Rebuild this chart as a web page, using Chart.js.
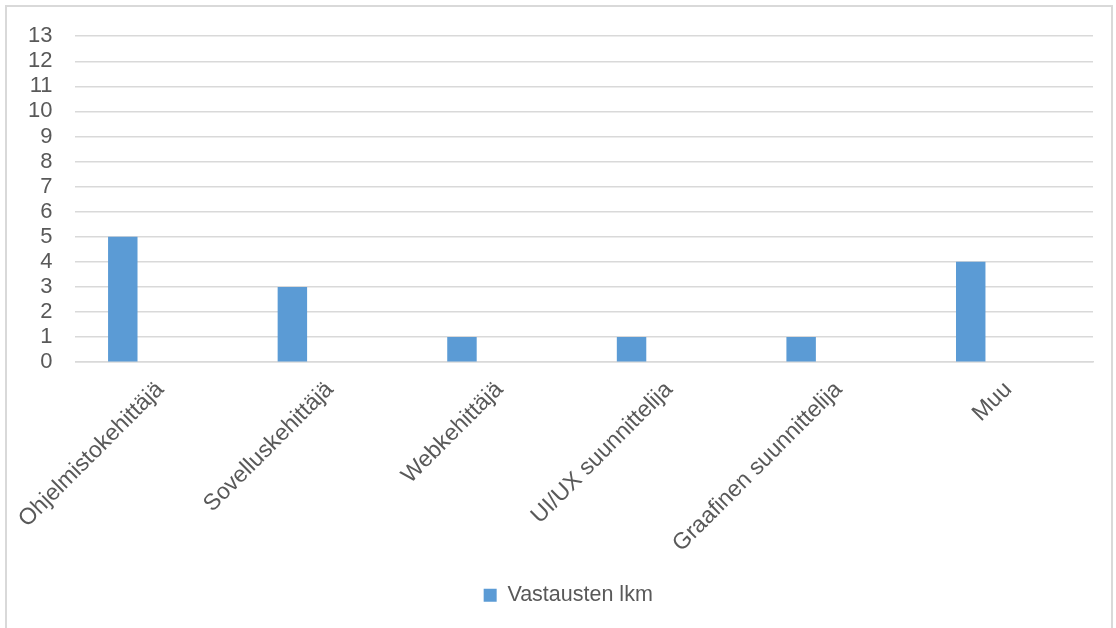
<!DOCTYPE html>
<html>
<head>
<meta charset="utf-8">
<script src="https://cdn.jsdelivr.net/npm/chart.js@4/dist/chart.umd.min.js"></script>
<style>
    html, body { margin: 0; padding: 0; background: #ffffff; overflow: hidden; }
    #frame {
        position: absolute;
        left: 5px;
        top: 5px;
        width: 1108px;
        height: 640px;
        border: 2px solid #d9d9d9;
        box-sizing: border-box;
    }
    #chart-wrap {
        position: absolute;
        left: 0;
        top: 0;
        width: 1116px;
        height: 642px;
    }
</style>
</head>
<body>
<div id="frame"></div>
<div id="chart-wrap"><canvas id="survey-chart"></canvas></div>
<script>
// Job titles of the respondents
const categories = ['Ohjelmistokehittäjä', 'Sovelluskehittäjä', 'Webkehittäjä', 'UI/UX suunnittelija', 'Graafinen suunnittelija', 'Muu'];

// Number of answers per title
const answerCounts = [5, 3, 1, 1, 1, 4];

// Second (empty) series in the same groups, kept out of the legend
const emptySeries = [null, null, null, null, null, null];

const yTicks = [0, 1, 2, 3, 4, 5, 6, 7, 8, 9, 10, 11, 12, 13];

const textColor = '#595959';
const gridColor = '#d9d9d9';
const fontFamily = '"Liberation Sans", Arial, sans-serif';

// Centre the legend under the plot area instead of the whole canvas
const legendShift = {
    id: 'legendShift',
    afterLayout(chart) {
        const legend = chart.legend;
        const area = chart.chartArea;
        const dx = (area.left + area.right) / 2 - (legend.left + legend.right) / 2 - 16;
        legend.left += dx;
        legend.right += dx;
    }
};

let ctx = document.getElementById('survey-chart');

new Chart(ctx, {
    type: 'bar',
    data: {
        labels: categories,
        datasets: [{
            label: 'Vastausten lkm',
            data: answerCounts,
            backgroundColor: '#5b9bd5',
            borderWidth: 0,
            categoryPercentage: 0.884,
            barPercentage: 0.393
        },
        {
            label: '',
            data: emptySeries,
            backgroundColor: 'rgba(0,0,0,0)',
            borderWidth: 0,
            categoryPercentage: 0.884,
            barPercentage: 0.393
        }]
    },
    plugins: [legendShift],
    options: {
        responsive: true,
        maintainAspectRatio: false,
        animation: false,
        layout: {
            padding: { left: 5, right: 23, top: 22, bottom: 26 }
        },
        plugins: {
            tooltip: { enabled: false },
            legend: {
                position: 'bottom',
                labels: {
                    color: textColor,
                    boxWidth: 13,
                    boxHeight: 13,
                    padding: 21,
                    font: { family: fontFamily, size: 21.5 },
                    filter: item => item.text !== ''
                }
            }
        },
        scales: {
            y: {
                min: 0,
                max: 13,
                afterBuildTicks: axis => {
                    axis.ticks = yTicks.map(v => ({ value: v }));
                },
                ticks: {
                    color: textColor,
                    padding: 23,
                    autoSkip: false,
                    font: { family: fontFamily, size: 22 }
                },
                grid: {
                    color: gridColor,
                    lineWidth: 1.5,
                    drawTicks: false
                },
                border: { display: false }
            },
            x: {
                ticks: {
                    color: textColor,
                    maxRotation: 45,
                    minRotation: 45,
                    padding: 6,
                    font: { family: fontFamily, size: 23 }
                },
                grid: {
                    display: false
                },
                border: {
                    display: true,
                    color: gridColor,
                    width: 1.5
                }
            }
        }
    }
});
</script>
</body>
</html>
